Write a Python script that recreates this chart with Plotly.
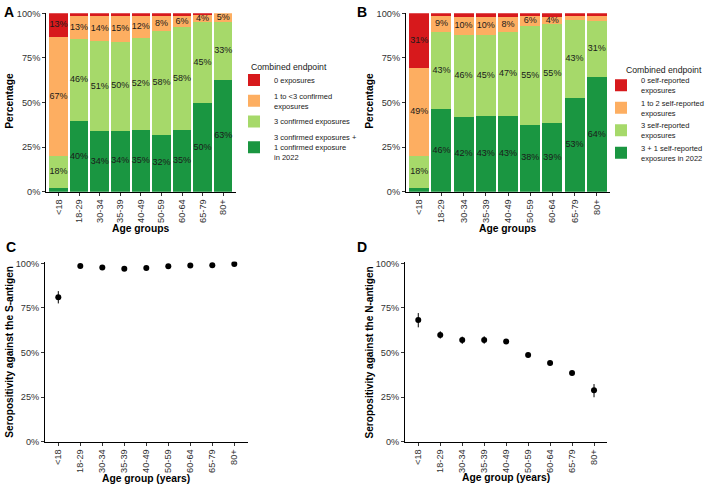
import plotly.graph_objects as go
import numpy as np

age_groups = ["<18", "18-29", "30-34", "35-39", "40-49", "50-59", "60-64", "65-79", "80+"]

# Panel A: confirmed exposures (percent of each age group)
a_zero = [13.1, 1.4, 1.3, 1.3, 1.4, 1.4, 1.3, 0.9, 0.0]
a_one_to_three = [66.8, 13.2, 14.3, 14.6, 12.2, 8.4, 6.3, 4.1, 4.8]
a_three = [18.2, 45.8, 50.6, 49.8, 51.6, 58.2, 57.8, 45.3, 32.6]
a_three_plus = [1.9, 39.6, 33.8, 34.3, 34.8, 32.0, 34.6, 49.7, 62.6]

# Panel B: self-reported exposures (percent of each age group)
b_zero = [30.8, 1.5, 2.0, 2.2, 2.2, 1.3, 1.9, 1.5, 1.6]
b_one_to_two = [49.1, 9.1, 10.0, 10.0, 8.3, 6.0, 4.3, 2.4, 2.7]
b_three = [18.3, 43.1, 46.0, 45.2, 46.8, 55.1, 55.2, 43.4, 31.3]
b_three_plus = [1.8, 46.3, 42.0, 42.6, 42.7, 37.6, 38.6, 52.7, 64.4]

# Panel C: seropositivity against the S-antigen (percent, with CI)
s_est = [81.0, 98.5, 97.6, 97.0, 97.4, 98.3, 98.7, 98.9, 99.6]
s_low = [77.5, 98.0, 97.0, 96.4, 96.8, 97.8, 98.2, 98.4, 99.1]
s_high = [84.4, 99.0, 98.2, 97.6, 98.0, 98.8, 99.2, 99.4, 100.0]

# Panel D: seropositivity against the N-antigen (percent, with CI)
n_est = [68.2, 59.8, 57.0, 57.0, 56.1, 48.6, 44.1, 38.5, 28.8]
n_low = [64.1, 57.8, 54.8, 54.9, 54.8, 47.3, 42.8, 37.2, 24.9]
n_high = [72.1, 61.9, 58.9, 59.1, 57.4, 49.9, 45.4, 39.8, 32.3]

legend_a = ["3 confirmed exposures +<br>1 confirmed exposure<br>in 2022",
            "3 confirmed exposures",
            "1 to <3 confirmed<br>exposures",
            "0 exposures"]
legend_b = ["3 + 1 self-reported<br>exposures in 2022",
            "3 self-reported<br>exposures",
            "1 to 2 self-reported<br>exposures",
            "0 self-reported<br>exposures"]
colors = ["#1A9641", "#A6D96A", "#FDAE61", "#D7191C"]

FONT = "Liberation Sans, Arial, sans-serif"
W, H = 708, 488

def px_x(a, b):
    return [a / W, b / W]

def px_y(top, bottom):
    return [(H - bottom) / H, (H - top) / H]

fig = go.Figure()

def add_stack(layers, names, xa, ya, legend):
    cum = np.zeros(len(age_groups))
    for vals, name, col in zip(layers, names, colors):
        vals = np.array(vals)
        fig.add_trace(go.Bar(x=age_groups, y=vals, name=name, marker_color=col,
                             marker_line_width=0, xaxis=xa, yaxis=ya, legend=legend,
                             hoverinfo="skip"))
        mids = cum + vals / 2
        labels = [f"{int(round(v))}%" if v >= 3.5 else "" for v in vals]
        fig.add_trace(go.Scatter(x=age_groups, y=mids, text=labels, mode="text",
                                 textfont=dict(family=FONT, size=9, color="#1a1a1a"),
                                 xaxis=xa, yaxis=ya, showlegend=False, hoverinfo="skip"))
        cum = cum + vals

add_stack([a_three_plus, a_three, a_one_to_three, a_zero], legend_a, "x", "y", "legend")
add_stack([b_three_plus, b_three, b_one_to_two, b_zero], legend_b, "x2", "y2", "legend2")

def add_points(est, lo, hi, xa, ya):
    est = np.array(est); lo = np.array(lo); hi = np.array(hi)
    fig.add_trace(go.Scatter(x=age_groups, y=est, mode="markers",
                             marker=dict(color="black", size=6),
                             error_y=dict(type="data", array=hi - est, arrayminus=est - lo,
                                          width=0, thickness=1, color="black"),
                             xaxis=xa, yaxis=ya, showlegend=False))

add_points(s_est, s_low, s_high, "x3", "y3")
add_points(n_est, n_low, n_high, "x4", "y4")

tickfont = dict(family=FONT, size=9.2, color="#333333")
pct_vals = [0, 25, 50, 75, 100]
pct_text = ["0%", "25%", "50%", "75%", "100%"]

def xaxis(domain, anchor):
    return dict(domain=domain, anchor=anchor, type="category", range=[-0.6, 8.6],
                tickangle=-90, ticks="outside", ticklen=3, tickcolor="#333333",
                showline=True, linecolor="black", linewidth=1, showgrid=False,
                tickfont=tickfont, zeroline=False)

def yaxis(domain, anchor, rng):
    return dict(domain=domain, anchor=anchor, range=rng, tickvals=pct_vals, ticktext=pct_text,
                ticks="outside", ticklen=3, tickcolor="#333333",
                showline=True, linecolor="black", linewidth=1, showgrid=False,
                tickfont=tickfont, zeroline=False)

top_y = px_y(13.3, 191.7)
bot_y = px_y(261.5, 441.7)
xa_dom = px_x(46.2, 235.5)
xb_dom = px_x(405.9, 610.1)
xc_dom = px_x(45.1, 247.5)
xd_dom = px_x(405.1, 607.2)

legend_font = dict(family=FONT, size=7.5, color="#1a1a1a")
fig.update_layout(
    width=W, height=H, autosize=False,
    margin=dict(l=0, r=0, t=0, b=0, autoexpand=False),
    paper_bgcolor="white", plot_bgcolor="white",
    barmode="stack", bargap=0.1,
    font=dict(family=FONT, color="black"),
    xaxis=xaxis(xa_dom, "y"),
    yaxis=yaxis(top_y, "x", [0, 100]),
    xaxis2=xaxis(xb_dom, "y2"),
    yaxis2=yaxis(top_y, "x2", [0, 100]),
    xaxis3=xaxis(xc_dom, "y3"),
    yaxis3=yaxis(bot_y, "x3", [0, 101]),
    xaxis4=xaxis(xd_dom, "y4"),
    yaxis4=yaxis(bot_y, "x4", [0, 101]),
    legend=dict(x=234 / W, y=(H - 65.5) / H, xanchor="left", yanchor="top",
                traceorder="reversed", font=legend_font,
                bgcolor="rgba(0,0,0,0)", tracegroupgap=0, itemwidth=30),
    legend2=dict(x=601 / W, y=(H - 69) / H, xanchor="left", yanchor="top",
                 traceorder="reversed", font=legend_font,
                 bgcolor="rgba(0,0,0,0)", tracegroupgap=0, itemwidth=30),
    showlegend=True,
)

def ann(text, x, y, size, angle=0, xanchor="center", bold=True, color="black"):
    fig.add_annotation(text=f"<b>{text}</b>" if bold else text, xref="paper", yref="paper",
                       x=x / W, y=(H - y) / H, xanchor=xanchor, yanchor="middle",
                       textangle=angle, showarrow=False,
                       font=dict(family=FONT, size=size, color=color))

# panel letters
ann("A", 2, 11.7, 14, xanchor="left")
ann("B", 355, 11.7, 14, xanchor="left")
ann("C", 4, 247, 14, xanchor="left")
ann("D", 355, 247, 14, xanchor="left")

# axis titles
ann("Age groups", (xa_dom[0] + xa_dom[1]) / 2 * W, 228.3, 10.3)
ann("Age groups", (xb_dom[0] + xb_dom[1]) / 2 * W, 228.3, 10.3)
ann("Age group (years)", (xc_dom[0] + xc_dom[1]) / 2 * W, 478.3, 10.3)
ann("Age group (years)", (xd_dom[0] + xd_dom[1]) / 2 * W, 477.7, 10.3)
ann("Percentage", 10, 100.8, 10.3, angle=-90)
ann("Percentage", 369.3, 100.5, 10.3, angle=-90)
ann("Seropositivity against the S-antigen", 10, 351.7, 10.1, angle=-90)
ann("Seropositivity against the N-antigen", 369, 352.5, 10.1, angle=-90)

# legend titles
ann("Combined endpoint", 249, 66.7, 8.7, xanchor="left", bold=False, color="#1a1a1a")
ann("Combined endpoint", 624, 70, 8.7, xanchor="left", bold=False, color="#1a1a1a")

fig.write_html("out.html", config={"displayModeBar": False},
               post_script="document.body.style.margin='0';document.body.style.overflow='hidden';")
